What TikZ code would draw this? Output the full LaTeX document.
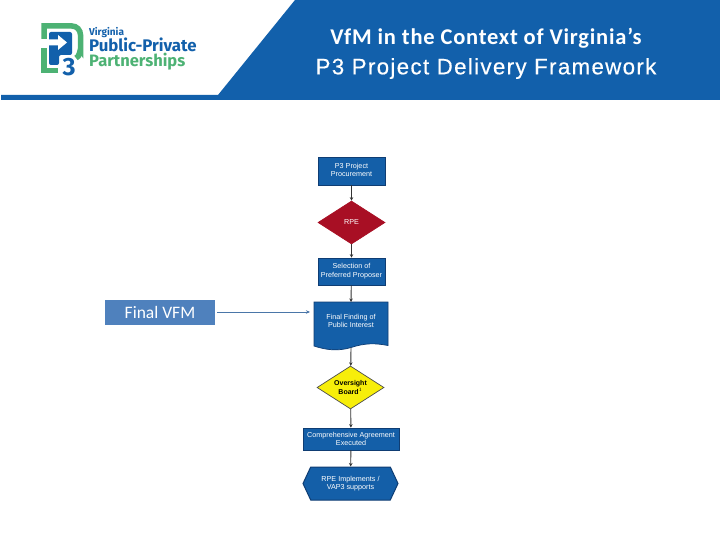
\documentclass[tikz,border=0pt]{standalone}
\usepackage{fontspec}
\setmainfont{Liberation Sans}
\newfontfamily\carl{Carlito}
\newfontfamily\carlt[LetterSpace=3.5]{Carlito}
\newfontfamily\titleb[LetterSpace=6,FakeBold=0.4]{Liberation Sans}
\newfontfamily\logof{Fira Sans}
\usetikzlibrary{shapes.geometric,shapes.symbols,arrows.meta}
\definecolor{hdrblue}{HTML}{1260AB}
\definecolor{nodeblue}{HTML}{145FA8}
\definecolor{navy}{HTML}{0F3D73}
\definecolor{lgreen}{HTML}{4DB274}
\definecolor{vfmblue}{HTML}{4F81BD}
\definecolor{linkblue}{HTML}{4A76A8}
\definecolor{rpered}{HTML}{A80F24}
\definecolor{osyellow}{HTML}{F7EE0A}
\newcommand{\twoline}[2]{\raisebox{4bp}{\begin{tabular}{@{}c@{}}#1\\#2\end{tabular}}}
\tikzset{
  x=1bp,y=-1bp,
  boxn/.style={draw=navy,line width=.7bp,fill=nodeblue,text=white,align=center,inner sep=0pt,font=\fontsize{7.2bp}{8.4bp}\selectfont},
  flow/.style={draw=black!80,line width=.9bp,-{Stealth[length=3.5bp,width=3.5bp]}},
}
\begin{document}
\begin{tikzpicture}
\useasboundingbox (0,0) rectangle (720,540);
\fill[white] (0,0) rectangle (720,540);
% header
\fill[hdrblue] (1,95) -- (218,95) -- (295,0) -- (720,0) -- (720,100) -- (1,100) -- cycle;
\node[anchor=base,font=\carlt\bfseries\fontsize{22.5bp}{26bp}\selectfont,white] (t1) at (486,44.3) {VfM in the Context of Virginia’s};
\node[anchor=base,white,font=\titleb\fontsize{22.3bp}{26bp}\selectfont] (t2) at (486,74.3) {P3 Project Delivery Framework};
% logo
\draw[lgreen,line width=5.5bp] (58,70.5) -- (44,70.5) -- (44,48);
\draw[lgreen,line width=5.5bp] (44,39) -- (44,26) -- (72,26) to[out=0,in=90] (80.5,35) -- (80.5,50) to[out=90,in=0] (76,58);
\fill[hdrblue,rounded corners=2bp] (49,32) -- (72,32) -- (72,55) -- (59,55) -- (59,65) -- (49,65) -- cycle;
\fill[white] (41,39.5) -- (58,39.5) -- (58,35) -- (67,42.5) -- (58,50) -- (58,45.5) -- (41,45.5) -- cycle;
\node[hdrblue,font=\logof\bfseries\fontsize{25bp}{25bp}\selectfont,inner sep=0pt] (l3) at (69,67.5) {3};
\node[hdrblue,font=\logof\bfseries\fontsize{10bp}{10bp}\selectfont,inner sep=0pt,anchor=base west] (l4) at (89,35.7) {Virginia};
\node[hdrblue,font=\logof\bfseries\fontsize{16.8bp}{17bp}\selectfont,inner sep=0pt,anchor=base west] (l5) at (89,51.5) {Public-Private};
\node[lgreen,font=\logof\bfseries\fontsize{16.5bp}{17bp}\selectfont,inner sep=0pt,anchor=base west] (l6) at (89,66.5) {Partnerships};
% flow
\node[boxn,minimum width=67bp,minimum height=28bp] (a) at (351.5,171) {\twoline{P3 Project}{Procurement}};
\node[boxn,diamond,aspect=1.56,fill=rpered,minimum width=67bp,minimum height=43bp,draw=rpered] (b) at (351.5,222.5) {RPE};
\node[boxn,minimum width=67bp,minimum height=27bp] (c) at (351.5,271.5) {\twoline{Selection of}{Preferred Proposer}};
\coordinate (dtop) at (351,302);
\coordinate (dbot) at (351,347.5);
\draw[navy,line width=.7bp,fill=nodeblue] (314,302) -- (388,302) -- (388,345.5) .. controls (375,343) and (365,343) .. (351,347.5) .. controls (338,351.5) and (326,350) .. (314,346) -- cycle;
\node[white,align=center,inner sep=0pt,font=\fontsize{7.2bp}{8.4bp}\selectfont] (d) at (351,321) {Final Finding of\\Public Interest};
\node[boxn,diamond,aspect=1.56,fill=osyellow,text=black,minimum width=67bp,minimum height=43bp,draw=black!70,font=\bfseries\fontsize{7bp}{8.4bp}\selectfont] (e) at (350.5,387.5) {Oversight\\Board$^{\scriptscriptstyle 1}$};
\node[boxn,minimum width=96bp,minimum height=22bp] (f) at (351,439) {Comprehensive Agreement\\Executed};
\node[draw=navy,line width=1bp,fill=nodeblue,text=white,align=center,inner sep=0pt,font=\fontsize{7.2bp}{8.4bp}\selectfont,
  shape=signal,signal to=west and east,signal pointer angle=130,minimum width=95bp,minimum height=33bp] (g) at (350.5,483.5) {RPE Implements /\\VAP3 supports};
\draw[flow] (a) -- (b);
\draw[flow] (b) -- (c);
\draw[flow] (c) -- (dtop);
\draw[flow] (dbot) -- (e);
\draw[flow] (e) -- (f);
\draw[flow] (f) -- (g);
% Final VFM
\node[fill=vfmblue,text=white,minimum width=110bp,minimum height=25bp,inner sep=0pt,font=\carl\fontsize{17.5bp}{18bp}\selectfont] (v) at (160,312.5) {Final VFM};
\coordinate (vend) at (310,312);
\draw[linkblue,line width=1bp,-{Stealth[length=4bp,width=3.5bp]}] (217,312) -- (vend);
\end{tikzpicture}
\end{document}
